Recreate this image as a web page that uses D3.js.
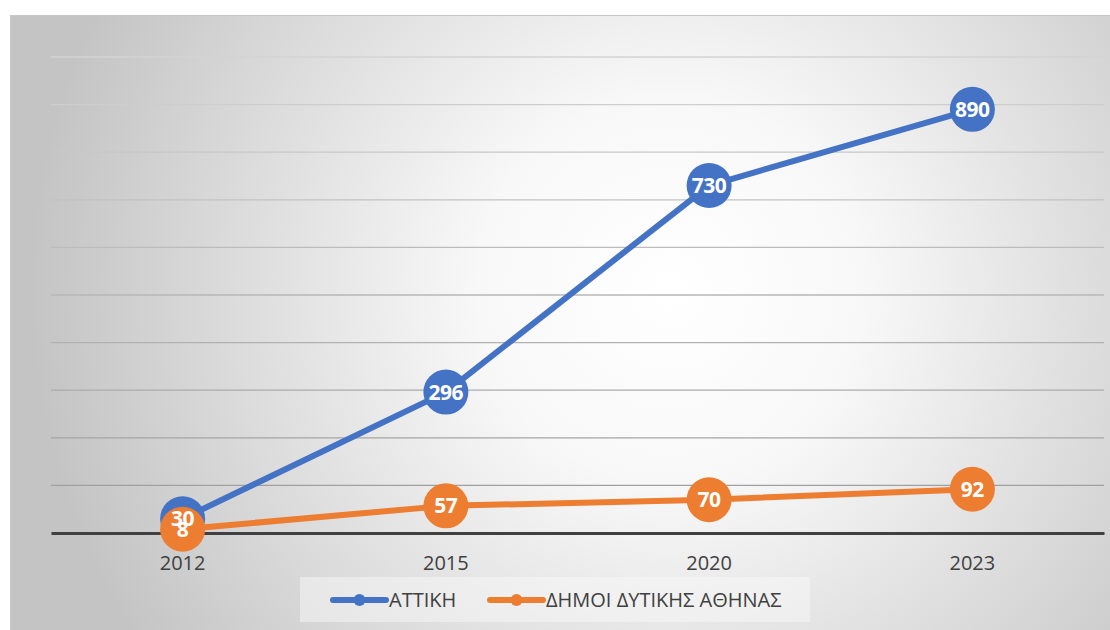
<!DOCTYPE html>
<html><head><meta charset="utf-8">
<script src="https://cdn.jsdelivr.net/npm/d3@7"></script>
<style>body{margin:0;background:#fff}svg{display:block}</style>
</head><body>
<svg id="c" width="1110" height="630"></svg>
<script>
const categories = ["2012", "2015", "2020", "2023"];
const seriesNames = ["ΑΤΤΙΚΗ", "ΔΗΜΟΙ ΔΥΤΙΚΗΣ ΑΘΗΝΑΣ"];
const attiki = [30, 296, 730, 890];
const dytiki = [8, 57, 70, 92];
const yTicks = [0, 100, 200, 300, 400, 500, 600, 700, 800, 900, 1000];
const colors = ["#4472C4", "#ED7D31"];

const svg = d3.select("#c");
const defs = svg.append("defs");
const rg = defs.append("radialGradient").attr("id","bg").attr("gradientUnits","userSpaceOnUse")
  .attr("cx",670).attr("cy",290).attr("r",640);
rg.append("stop").attr("offset","0").attr("stop-color","#ffffff");
rg.append("stop").attr("offset","0.3").attr("stop-color","#f8f8f8");
rg.append("stop").attr("offset","1").attr("stop-color","#c4c4c4");
const lg = defs.append("linearGradient").attr("id","gl").attr("gradientUnits","userSpaceOnUse")
  .attr("x1",0).attr("y1",50).attr("x2",0).attr("y2",533);
lg.append("stop").attr("offset","0").attr("stop-color","#d4d4d4");
lg.append("stop").attr("offset","1").attr("stop-color","#9a9a9a");

svg.append("rect").attr("x",10.5).attr("y",15.5).attr("width",1110).attr("height",630)
  .attr("fill","url(#bg)").attr("stroke","#c8c8c8").attr("stroke-width",1);

const x = d3.scaleBand().domain(categories).range([51, 1104]);
const y = d3.scaleLinear().domain([0, 1000]).range([533, 57]);

svg.append("g").selectAll("line").data(yTicks.filter(d=>d>0)).join("line")
  .attr("x1",51).attr("x2",1104).attr("y1",d=>y(d)).attr("y2",d=>y(d))
  .attr("stroke","url(#gl)").attr("stroke-width",1.3);

const xAxis = svg.append("g").attr("transform","translate(0,533)")
  .call(d3.axisBottom(x).tickSize(0).tickPadding(23));
xAxis.select(".domain").attr("stroke","#404040").attr("stroke-width",3);
xAxis.selectAll("text").attr("font-family","'Open Sans', sans-serif").attr("font-size",20).attr("fill","#404040");

const series = [attiki, dytiki];
const cx = (d,i)=>x(categories[i]) + x.bandwidth()/2;
const line = d3.line().x(cx).y(d=>y(d));
series.forEach((s,k)=>{
  svg.append("path").datum(s).attr("d",line).attr("fill","none")
    .attr("stroke",colors[k]).attr("stroke-width",6).attr("stroke-linejoin","round");
});
series.forEach((s,k)=>{
  svg.append("g").selectAll("circle").data(s).join("circle")
    .attr("cx",cx).attr("cy",d=>y(d)).attr("r",22.5).attr("fill",colors[k]);
});
series.forEach((s,k)=>{
  svg.append("g").selectAll("text").data(s).join("text")
    .attr("x",cx).attr("y",d=>y(d)).attr("dy","0.36em").attr("text-anchor","middle")
    .attr("font-family","'Open Sans', sans-serif").attr("font-weight","bold").attr("font-size",21)
    .attr("letter-spacing","-0.5").attr("fill","#fff").text(d=>d);
});

// legend
const leg = svg.append("g");
leg.append("rect").attr("x",300).attr("y",577).attr("width",510).attr("height",45).attr("fill","#f8f8f8").attr("opacity",0.5);
const legX = [333, 490];
seriesNames.forEach((n,k)=>{
  const g = leg.append("g").attr("transform",`translate(${legX[k]},600)`);
  g.append("line").attr("x1",0).attr("x2",53).attr("stroke",colors[k]).attr("stroke-width",6).attr("stroke-linecap","round");
  g.append("circle").attr("cx",26.5).attr("r",6).attr("fill",colors[k]);
  g.append("text").attr("x",56).attr("dy","0.36em").attr("font-family","'Open Sans', sans-serif")
    .attr("font-size",20).attr("fill","#404040").text(n);
});
</script>
</body></html>
